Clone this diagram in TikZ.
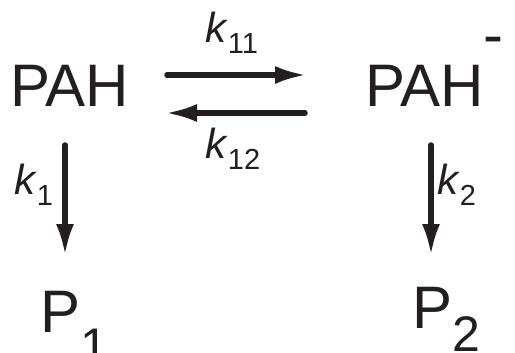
\documentclass[tikz,border=0pt]{standalone}
\usepackage{fontspec}
\setmainfont{Liberation Sans}
\usetikzlibrary{arrows.meta}
\definecolor{ink}{HTML}{231F20}
\tikzset{
  species/.style={inner sep=0pt, anchor=base west, text=ink, font=\fontsize{60}{60}\selectfont},
  rate/.style={inner sep=0pt, anchor=base west, text=ink, font=\fontsize{42}{42}\selectfont},
  rxn/.style={draw=ink, line width=5.5pt, line cap=round, -{Latex[length=32pt,width=18pt]}}
}
\newcommand{\ksub}[2]{\textit{k}\raisebox{-#2pt}{\fontsize{29}{29}\selectfont #1}}
\begin{document}
\begin{tikzpicture}[x=1pt,y=-1pt]
\useasboundingbox (0,0) rectangle (515,353);
\node[species] (pahL) at (10,107) {PAH};
\node[species] (pahR) at (365,107) {PAH\kern-1pt\raisebox{52pt}{-}};
\node[species] (p1) at (40,332) {P\raisebox{-31pt}{\fontsize{50}{50}\selectfont 1}};
\node[species] (p2) at (412,328) {P\raisebox{-23pt}{\fontsize{50}{50}\selectfont 2}};
\node[rate] (k11) at (205,43) {\ksub{11}{11}};
\node[rate] (k12) at (205,158) {\ksub{12}{12}};
\node[rate] (k1) at (14,195) {\ksub{1}{10}};
\node[rate] (k2) at (437,195) {\ksub{2}{10}};
\coordinate (f1) at (167,75);
\coordinate (f2) at (307,75);
\coordinate (b1) at (305,113);
\coordinate (b2) at (165,113);
\coordinate (l1) at (65,145);
\coordinate (l2) at (65,256);
\coordinate (r1) at (431,145);
\coordinate (r2) at (431,256);
\draw[rxn] (f1) -- (f2);
\draw[rxn] (b1) -- (b2);
\draw[rxn] (l1) -- (l2);
\draw[rxn] (r1) -- (r2);
\end{tikzpicture}
\end{document}
